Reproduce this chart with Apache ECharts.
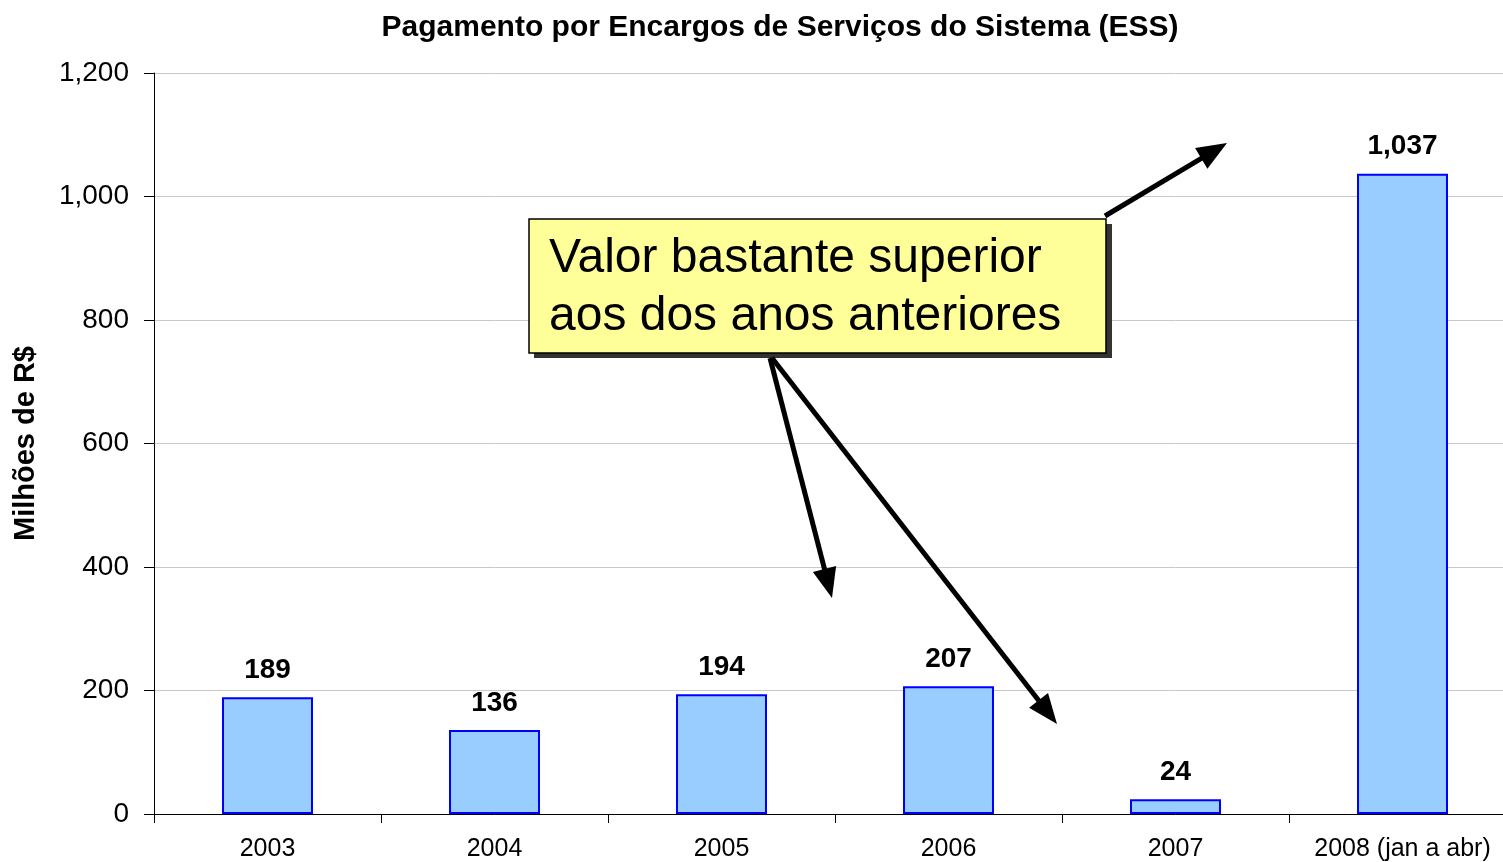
<!DOCTYPE html>
<html style="height: 100%">

<head>
    <meta charset="utf-8">
</head>

<body style="height: 100%; margin: 0; background: #fff; overflow: hidden">
    <div id="main" style="width: 1516px; height: 862px"></div>
    <script src="https://cdn.jsdelivr.net/npm/echarts@6/dist/echarts.min.js"></script>
    <script type="text/javascript">

        var years = ['2003', '2004', '2005', '2006', '2007', '2008 (jan a abr)'];
        var values = [189, 136, 194, 207, 24, 1037];
        var yTicks = [0, 200, 400, 600, 800, 1000, 1200];

        var chartDom = document.getElementById('main');
        var myChart = echarts.init(chartDom);
        var FONT = '"Liberation Sans", Arial, sans-serif';

        // arrow: line plus a filled head at the tip
        function arrow(x1, y1, x2, y2) {
            var dx = x2 - x1, dy = y2 - y1;
            var len = Math.sqrt(dx * dx + dy * dy);
            var ux = dx / len, uy = dy / len;
            var hl = 30, hw = 12;
            var bx = x2 - ux * hl, by = y2 - uy * hl;
            return [{
                type: 'line',
                shape: { x1: x1, y1: y1, x2: bx + ux * 4, y2: by + uy * 4 },
                style: { stroke: '#000', lineWidth: 5 },
                z: 100
            }, {
                type: 'polygon',
                shape: { points: [[x2, y2], [bx - uy * hw, by + ux * hw], [bx + uy * hw, by - ux * hw]] },
                style: { fill: '#000' },
                z: 100
            }];
        }

        var graphics = [
            {
                type: 'rect',
                shape: { x: 534, y: 224, width: 578, height: 134 },
                style: { fill: '#333' },
                z: 90
            },
            {
                type: 'rect',
                shape: { x: 529, y: 219, width: 577, height: 134 },
                style: { fill: '#FFFF99', stroke: '#000', lineWidth: 1.5 },
                z: 91
            },
            {
                type: 'text',
                left: 549,
                top: 230,
                style: {
                    text: 'Valor bastante superior\naos dos anos anteriores',
                    font: '48px ' + FONT,
                    lineHeight: 58,
                    fill: '#000'
                },
                z: 92
            }
        ];
        graphics = graphics
            .concat(arrow(1105, 216, 1227, 143))
            .concat(arrow(770, 358, 832, 598))
            .concat(arrow(772, 358, 1057, 724));

        var option = {
            animation: false,
            backgroundColor: '#fff',
            title: {
                text: 'Pagamento por Encargos de Serviços do Sistema (ESS)',
                left: 775,
                top: 8,
                textAlign: 'center',
                textStyle: { fontFamily: FONT, fontWeight: 'bold', fontSize: 30, color: '#000' }
            },
            grid: { left: 154, right: 0, top: 73, bottom: 48 },
            xAxis: {
                type: 'category',
                data: years,
                axisLine: { lineStyle: { color: '#000', width: 1 } },
                axisTick: { show: true, interval: 0, length: 9, inside: false, lineStyle: { color: '#000' } },
                axisLabel: { interval: 0, fontFamily: FONT, fontSize: 25, color: '#000', margin: 23 }
            },
            yAxis: {
                type: 'value',
                min: yTicks[0],
                max: yTicks[yTicks.length - 1],
                interval: 200,
                name: 'Milhões de R$',
                nameLocation: 'middle',
                nameGap: 114,
                nameTextStyle: { fontFamily: FONT, fontWeight: 'bold', fontSize: 29, color: '#000' },
                axisLine: { show: true, lineStyle: { color: '#000' } },
                axisTick: { show: true, length: 10, lineStyle: { color: '#000' } },
                axisLabel: {
                    fontFamily: FONT, fontSize: 28, color: '#000', margin: 25,
                    formatter: function (v) { return v.toLocaleString('en-US'); }
                },
                splitLine: { lineStyle: { color: '#c8c8c8', width: 1 } }
            },
            series: [{
                type: 'bar',
                data: values,
                barWidth: 91,
                itemStyle: { color: '#99CCFF', borderColor: '#0000FF', borderWidth: 2 },
                label: {
                    show: true,
                    position: 'top',
                    distance: 13,
                    fontFamily: FONT,
                    fontWeight: 'bold',
                    fontSize: 28,
                    color: '#000',
                    formatter: function (p) { return p.value.toLocaleString('en-US'); }
                }
            }],
            graphic: graphics
        };

        myChart.setOption(option);

    </script>
</body>

</html>
